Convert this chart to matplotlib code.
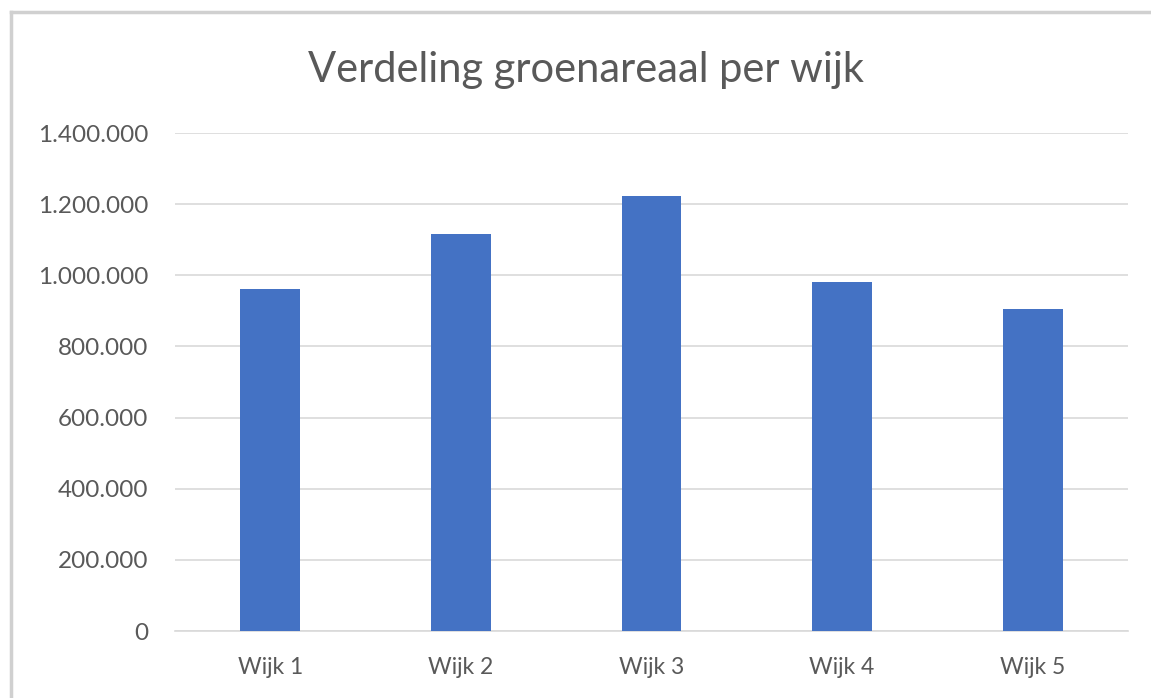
import matplotlib.pyplot as plt
from matplotlib.lines import Line2D
from matplotlib.ticker import FuncFormatter, MultipleLocator

wijken = ["Wijk 1", "Wijk 2", "Wijk 3", "Wijk 4", "Wijk 5"]
groenareaal = [962000, 1117000, 1224000, 982000, 905000]

BAR_COLOR = "#4472C4"
TEXT_COLOR = "#595959"
GRID_COLOR = "#D9D9D9"

plt.rcParams["font.family"] = ["Lato", "DejaVu Sans"]

W, H = 1151, 698
fig = plt.figure(figsize=(W / 100, H / 100), dpi=100)
ax = fig.add_axes([175 / W, 1 - 631 / H, (1128 - 175) / W, (631 - 133) / H])

x = range(len(wijken))
ax.bar(x, groenareaal, width=0.313, color=BAR_COLOR, zorder=3)

ax.set_xlim(-0.5, len(wijken) - 0.5)
ax.set_ylim(0, 1400000)
ax.yaxis.set_major_locator(MultipleLocator(200000))
ax.yaxis.set_major_formatter(FuncFormatter(lambda v, p: f"{v:,.0f}".replace(",", ".")))
ax.set_xticks(list(x))
ax.set_xticklabels(wijken)

ax.grid(axis="y", color=GRID_COLOR, linewidth=1.2, zorder=0)
for s in ["top", "right", "left"]:
    ax.spines[s].set_visible(False)
ax.spines["bottom"].set_color(GRID_COLOR)
ax.spines["bottom"].set_linewidth(1.2)
ax.tick_params(axis="both", length=0, colors=TEXT_COLOR)
ax.tick_params(axis="y", pad=19, labelsize=17.5)
ax.tick_params(axis="x", pad=19, labelsize=16.5)

fig.text(586 / W, 1 - 70 / H, "Verdeling groenareaal per wijk", ha="center", va="center",
         fontsize=30, color=TEXT_COLOR)

# chart border (only top and left visible in the screenshot)
fig.add_artist(Line2D([11 / W, 1], [1 - 12 / H, 1 - 12 / H], transform=fig.transFigure,
                      color="#D0D0D0", linewidth=2.5))
fig.add_artist(Line2D([11 / W, 11 / W], [0, 1 - 12 / H], transform=fig.transFigure,
                      color="#D0D0D0", linewidth=2.5))

fig.savefig("out.png", dpi=100, facecolor="white")
